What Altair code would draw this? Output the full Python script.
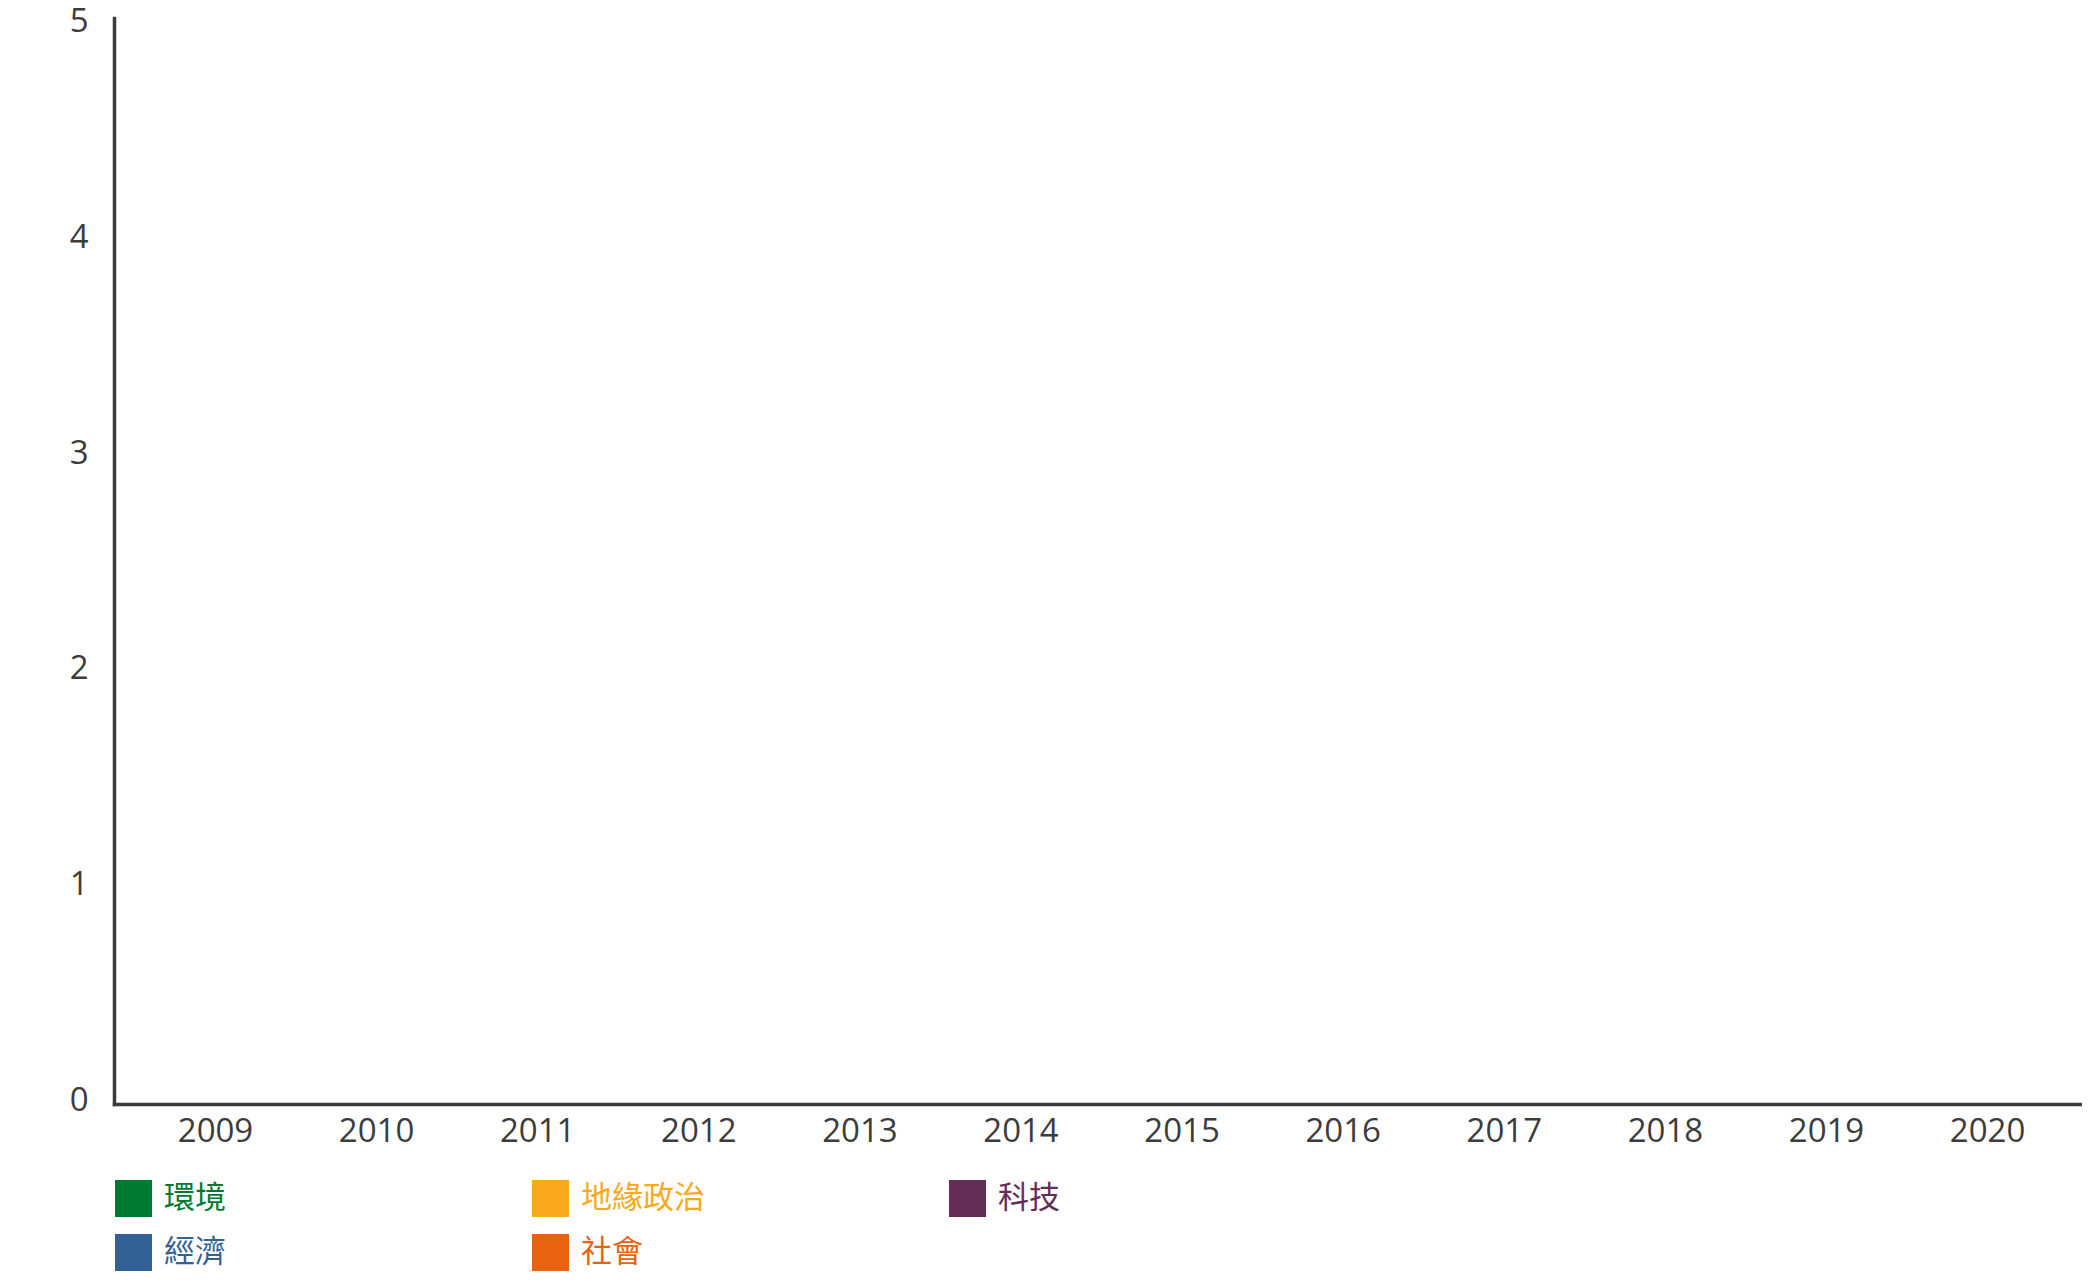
import altair as alt
import pandas as pd

years = ["2009", "2010", "2011", "2012", "2013", "2014",
         "2015", "2016", "2017", "2018", "2019", "2020"]
# Order chosen so that the column-filled legend reads row by row like the reference
categories = ["環境", "經濟", "地緣政治", "社會", "科技"]
colors = ["#007a33", "#336195", "#f8a91c", "#e8620f", "#632d58"]

# Values: no bar is visible in any year.
environment = [0, 0, 0, 0, 0, 0, 0, 0, 0, 0, 0, 0]
economy = [0, 0, 0, 0, 0, 0, 0, 0, 0, 0, 0, 0]
geopolitics = [0, 0, 0, 0, 0, 0, 0, 0, 0, 0, 0, 0]
society = [0, 0, 0, 0, 0, 0, 0, 0, 0, 0, 0, 0]
technology = [0, 0, 0, 0, 0, 0, 0, 0, 0, 0, 0, 0]

y_ticks = [0, 1, 2, 3, 4, 5]

series = [environment, economy, geopolitics, society, technology]
rows = []
for cat, vals in zip(categories, series):
    for yr, v in zip(years, vals):
        rows.append({"year": yr, "category": cat, "value": v})
df = pd.DataFrame(rows)

axis_color = "#3c3c3c"

chart = alt.Chart(df).mark_bar().encode(
    x=alt.X(
        "year:N",
        sort=years,
        scale=alt.Scale(domain=years, paddingInner=0, paddingOuter=0.108, align=0.602),
        axis=alt.Axis(
            title=None, labelAngle=0, ticks=False, tickSize=0, grid=False,
            labelPadding=11, labelFont="Open Sans", labelFontSize=33,
            labelColor=axis_color, domainColor=axis_color, domainWidth=3.5,
            domainCap="square",
        ),
    ),
    y=alt.Y(
        "value:Q",
        stack="zero",
        scale=alt.Scale(domain=[0, 5], nice=False, zero=False, padding=3.5),
        axis=alt.Axis(
            values=y_ticks, title=None, ticks=False, tickSize=0, grid=False,
            labelPadding=26, labelFont="Open Sans", labelFontSize=33,
            labelColor=axis_color, domainColor=axis_color, domainWidth=3.5,
            domainCap="square",
        ),
    ),
    color=alt.Color(
        "category:N",
        scale=alt.Scale(domain=categories, range=colors),
        legend=alt.Legend(
            title=None, orient="none", legendX=1, legendY=1162,
            columns=3, gridAlign="all", columnPadding=244, rowPadding=17,
            symbolType="square", symbolSize=1369, symbolStrokeWidth=0,
            symbolOpacity=1, labelFont="Noto Sans CJK TC", labelFontSize=31,
            labelOffset=12, labelLimit=400, padding=0,
            labelColor=alt.ExprRef("scale('color', datum.value)"),
        ),
    ),
    order=alt.Order("category:N"),
).properties(
    width=1968,
    height=1086,
    padding={"left": 106, "top": 10, "right": 0, "bottom": 169},
    autosize=alt.AutoSizeParams(type="none"),
).configure_view(stroke=None)

chart.save("out.html", embed_options={"renderer": "svg", "actions": False})
